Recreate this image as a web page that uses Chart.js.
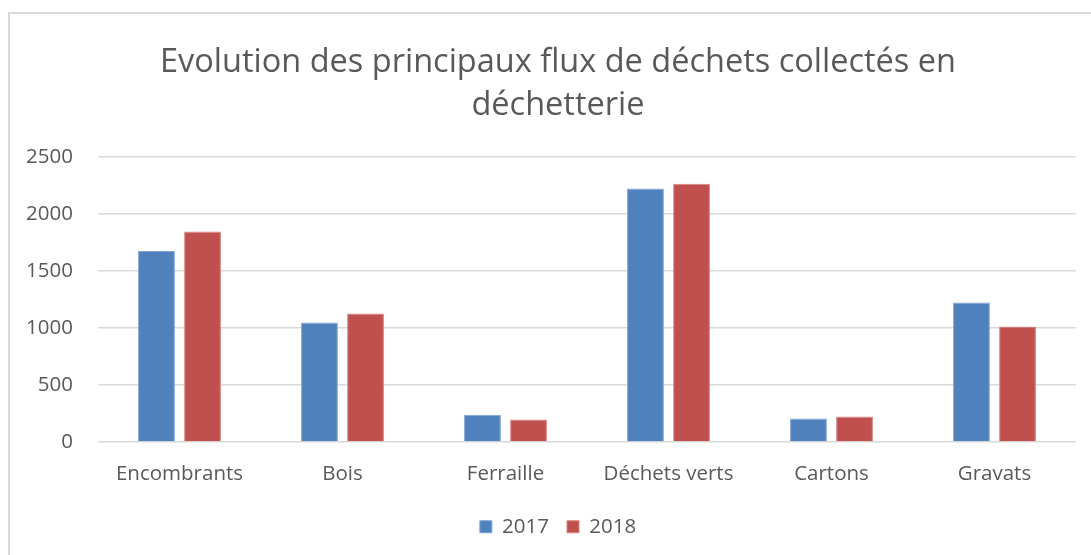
<!DOCTYPE html>
<html>
<head>
<meta charset="utf-8">
<script src="https://cdn.jsdelivr.net/npm/chart.js@4"></script>
<style>
  body{margin:0;background:#fff;}
  #frame{position:absolute;left:8px;top:12px;width:1100px;height:560px;border-left:2px solid #d9d9d9;border-top:2px solid #d9d9d9;}
  #wrap{position:absolute;left:0;top:0;width:1091px;height:555px;}
</style>
</head>
<body>
<div id="frame"></div>
<div id="wrap"><canvas id="myChart"></canvas></div>
<script>
'use strict';
let categories=['Encombrants','Bois','Ferraille','Déchets verts','Cartons','Gravats'];
let values2017=[1675,1047,237,2223,205,1223];
let values2018=[1846,1126,196,2263,223,1012];
let yTicks=[0,500,1000,1500,2000,2500];
let titleLines=['Evolution des principaux flux de déchets collectés en','déchetterie'];

let grey='#595959';

// the y labels overflow to the left of the padded area, widen the label clip box
let widenYAxis={
  id:'widenYAxis',
  afterLayout:function(chart){
    chart.scales.y.left=0;
  }
};

let ctx=document.getElementById('myChart');
let myChart=new Chart(ctx,{
  type:'bar',
  data:{
    labels:categories,
    datasets:[{
      label:'2017',
      data:values2017,
      backgroundColor:'#4F81BD',
      borderColor:'#7FA3D3',
      borderWidth:1
    },{
      label:'2018',
      data:values2018,
      backgroundColor:'#C0504D',
      borderColor:'#D88583',
      borderWidth:1
    }]
  },
  plugins:[widenYAxis],
  options:{
    responsive:true,
    maintainAspectRatio:false,
    animation:false,
    datasets:{bar:{categoryPercentage:0.565,barPercentage:0.8}},
    // left padding bigger than right so the title and legend sit a bit right of centre, like the original
    layout:{padding:{left:40,right:15,top:0,bottom:8}},
    plugins:{
      title:{
        display:true,
        text:titleLines,
        color:grey,
        font:{family:'Open Sans',size:32.5,weight:'normal',lineHeight:1.32},
        padding:{top:41,bottom:30}
      },
      legend:{
        position:'bottom',
        labels:{
          color:grey,
          font:{family:'Open Sans',size:20.5},
          boxWidth:12,
          boxHeight:12,
          padding:18
        }
      },
      tooltip:{enabled:false}
    },
    scales:{
      x:{
        grid:{display:false},
        border:{display:false},
        ticks:{color:grey,font:{family:'Open Sans',size:20.5},padding:12,maxRotation:0}
      },
      y:{
        min:0,
        max:2500,
        afterBuildTicks:function(scale){
          scale.ticks=yTicks.map(function(v){return {value:v};});
        },
        afterFit:function(scale){
          scale.width=58;
        },
        grid:{color:'#d9d9d9',lineWidth:1.5,drawTicks:false},
        border:{display:false},
        ticks:{
          color:grey,
          font:{family:'Open Sans',size:20.5},
          padding:25,
          callback:function(value){return String(value);}
        }
      }
    }
  }
});
</script>
</body>
</html>
